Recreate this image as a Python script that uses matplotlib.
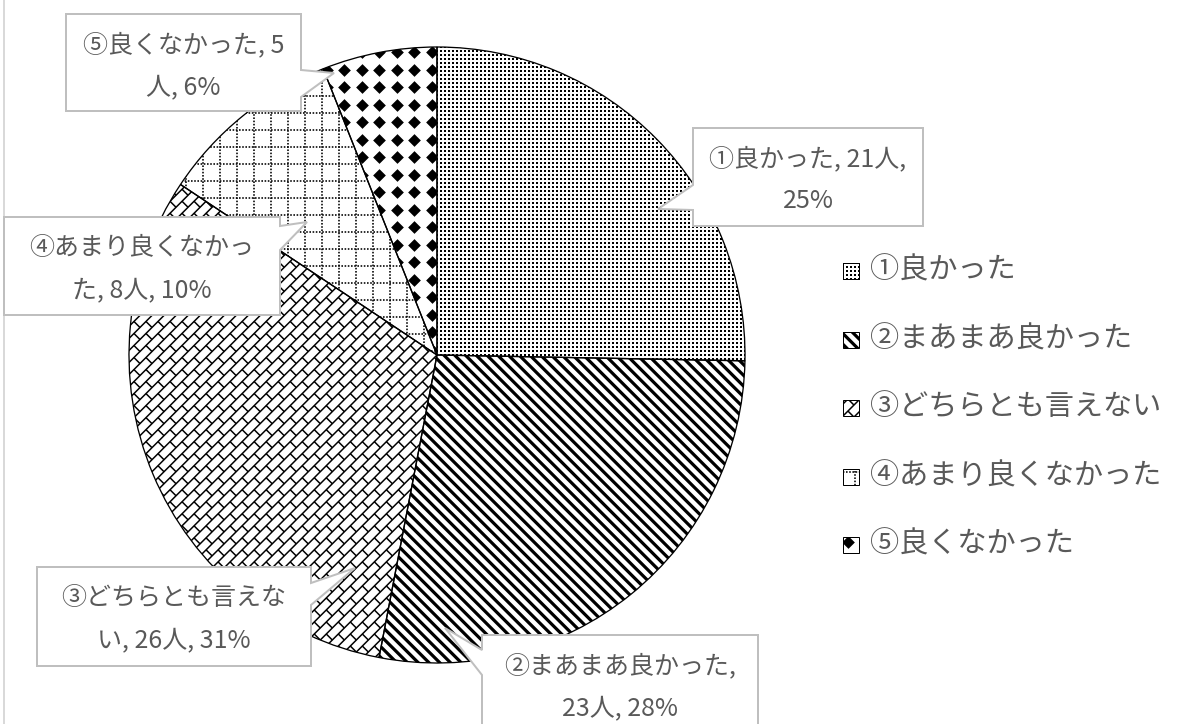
import numpy as np
import matplotlib.pyplot as plt
from matplotlib.patches import Wedge, Rectangle, Polygon
from matplotlib.collections import LineCollection

plt.rcParams['font.family'] = ['Noto Sans CJK JP', 'DejaVu Sans']

# data
categories = ['①良かった', '②まあまあ良かった', '③どちらとも言えない',
              '④あまり良くなかった', '⑤良くなかった']
counts = [21, 23, 26, 8, 5]
patterns = ['dots', 'stripes', 'brick', 'grid', 'diamonds']
# where the callout text wraps (characters on the first line)
wrap_at = [11, 10, 9, 9, 10]

W, H = 1194, 724
PX = 0.72  # points per pixel at dpi 100
TEXT = '#595959'
BORDER = '#bfbfbf'

# callout boxes (x0, y0, x1, y1), pointer side, notch (a, b), tip
callouts = [
    ((693, 128, 923, 226), 'left', (185, 210), (658, 209)),
    ((482, 635, 758, 740), 'left', (650, 675), (445, 628)),
    ((37, 567, 311, 666), 'right', (583, 605), (355, 568)),
    ((4, 217, 280, 315), 'right', (226, 250), (307, 222)),
    ((66, 14, 301, 111), 'right', (70, 97), (334, 73)),
]


def clip_to(artist, clip):
    artist.set_clip_path(clip)
    return artist


def fill_pattern(ax, clip, kind, bbox, z=2):
    x0, y0, x1, y1 = bbox
    cx, cy = (x0 + x1) / 2, (y0 + y1) / 2
    R = np.hypot(x1 - x0, y1 - y0) / 2 + 10

    def lines(angle, spacing, lw, ls='solid'):
        a = np.deg2rad(angle)
        d = np.array([np.cos(a), np.sin(a)])
        n = np.array([-np.sin(a), np.cos(a)])
        segs = []
        for o in np.arange(-R, R + spacing, spacing):
            p = np.array([cx, cy]) + o * n
            segs.append([p - R * d, p + R * d])
        lc = LineCollection(segs, colors='black', linewidths=lw * PX,
                            linestyles=ls, zorder=z)
        ax.add_collection(lc)
        clip_to(lc, clip)

    if kind == 'dots':
        xs = np.arange(x0, x1 + 4, 4.0)
        ys = np.arange(y0, y1 + 4, 4.0)
        X, Y = np.meshgrid(xs, ys)
        sc = ax.scatter(X.ravel(), Y.ravel(), s=(2.0 * PX) ** 2, marker='s',
                        c='black', linewidths=0, zorder=z)
        clip_to(sc, clip)
    elif kind == 'stripes':
        lines(45, 7.6, 3.2)
    elif kind == 'grid':
        lines(0, 17, 1.6, (0, (1, 1)))
        lines(90, 17, 1.6, (0, (1, 1)))
    elif kind == 'diamonds':
        xs = np.arange(x0 + 5, x1 + 18, 17.5)
        ys = np.arange(y0 + 5, y1 + 18, 17.5)
        X, Y = np.meshgrid(xs, ys)
        sc = ax.scatter(X.ravel(), Y.ravel(), s=(9.0 * PX) ** 2, marker='D',
                        c='black', linewidths=0, zorder=z)
        clip_to(sc, clip)
    elif kind == 'brick':
        s, L = 8.5, 17.0
        d = np.array([1, -1]) / np.sqrt(2)   # along '/'
        n = np.array([1, 1]) / np.sqrt(2)    # along '\'
        c = np.array([cx, cy])
        segs = []
        ks = np.arange(-R // s - 1, R // s + 2)
        for k in ks:
            v = k * s
            segs.append([c + v * n - R * d, c + v * n + R * d])
            shift = (int(k) % 2) * L / 2
            for u in np.arange(-R - L, R + L, L):
                uu = u + shift
                segs.append([c + v * n + uu * d, c + (v + s) * n + uu * d])
        lc = LineCollection(segs, colors='black', linewidths=1.5 * PX, zorder=z)
        ax.add_collection(lc)
        clip_to(lc, clip)


fig = plt.figure(figsize=(W / 100, H / 100), dpi=100)
ax = fig.add_axes([0, 0, 1, 1])

cx, cy, r = 437, 355, 308
wedges, _ = ax.pie(counts, startangle=-90, counterclock=True, radius=r,
                   center=(cx, cy),
                   wedgeprops=dict(facecolor='white', edgecolor='none', zorder=1))
ax.set_xlim(0, W)
ax.set_ylim(H, 0)
ax.set_aspect('equal')
ax.axis('off')

for w, kind in zip(wedges, patterns):
    fill_pattern(ax, w, kind, (cx - r, cy - r, cx + r, cy + r))
    ax.add_patch(Wedge(w.center, w.r, w.theta1, w.theta2, fill=False,
                       edgecolor='black', linewidth=1.3 * PX, zorder=3))

# callouts
total = sum(counts)
for cat, n, cut, (box, side, (a, b), tip) in zip(categories, counts, wrap_at, callouts):
    pct = round(100 * n / total)
    label = f'{cat}, {n}人, {pct}%'
    line1, line2 = label[:cut].strip(), label[cut:].strip()
    x0, y0, x1, y1 = box
    if side == 'right':
        verts = [(x0, y0), (x1, y0), (x1, a), tip, (x1, b), (x1, y1), (x0, y1)]
    else:
        verts = [(x0, y0), (x1, y0), (x1, y1), (x0, y1), (x0, b), tip, (x0, a)]
    ax.add_patch(Polygon(verts, closed=True, facecolor='white', edgecolor=BORDER,
                         linewidth=2 * PX, zorder=4))
    xm = (x0 + x1) / 2
    ax.text(xm, y0 + 31, line1, ha='center', va='center', fontsize=18,
            color=TEXT, zorder=5)
    ax.text(xm, y0 + 73, line2, ha='center', va='center', fontsize=18,
            color=TEXT, zorder=5)

# legend
for i, (cat, kind) in enumerate(zip(categories, patterns)):
    y = 271 + i * 68.5
    box = (843, y - 8, 859, y + 8)
    rect = Rectangle((box[0], box[1]), 16, 16, facecolor='white',
                     edgecolor='none', zorder=1)
    ax.add_patch(rect)
    fill_pattern(ax, rect, kind, box)
    ax.add_patch(Rectangle((box[0], box[1]), 16, 16, fill=False,
                           edgecolor='black', linewidth=1 * PX, zorder=3))
    ax.text(870, y, cat, ha='left', va='center', fontsize=21, color=TEXT)

# chart frame, only its left edge shows
ax.plot([4, 4], [0, H], color='#d9d9d9', linewidth=2 * PX, zorder=0)

fig.savefig('out.png', dpi=100)
